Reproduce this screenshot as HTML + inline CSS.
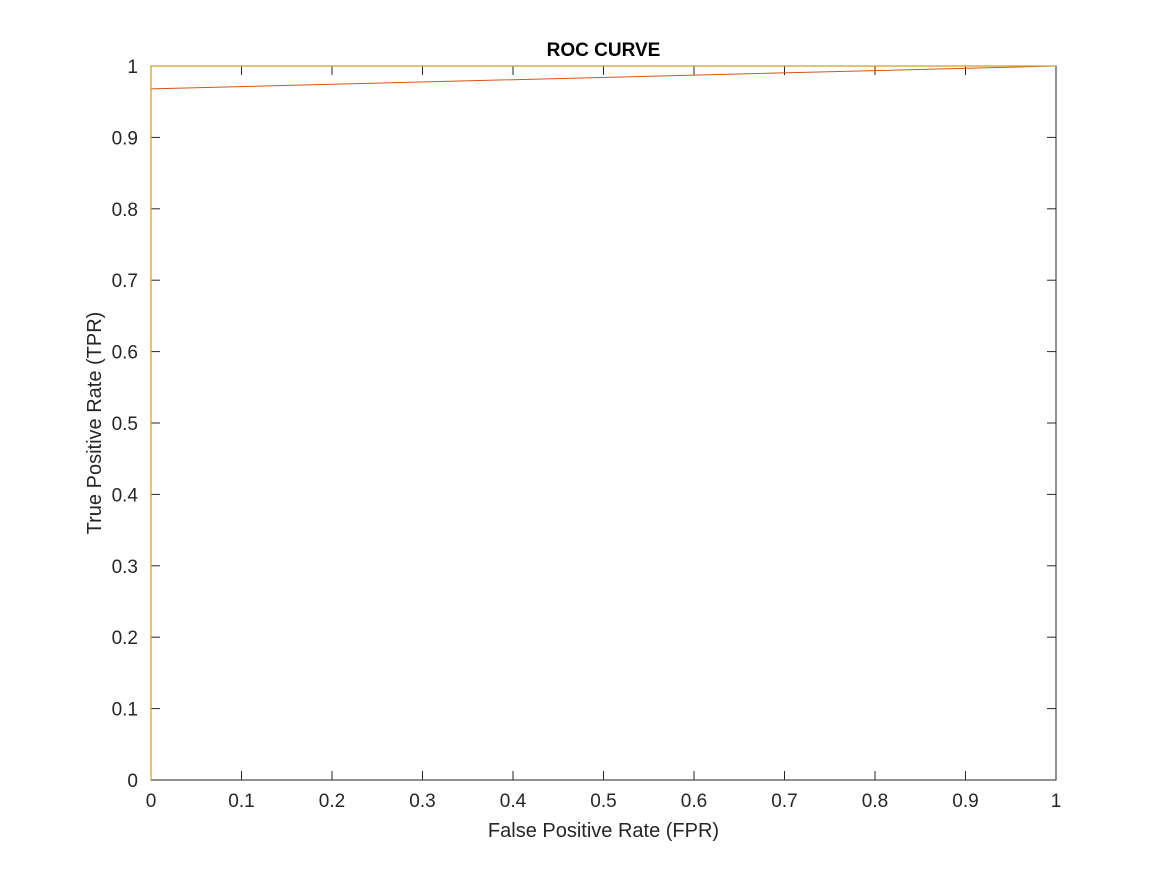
<!DOCTYPE html>
<html><head><meta charset="utf-8"><style>
body{margin:0;background:#fff;}
svg{display:block;font-family:"Liberation Sans",sans-serif;}
</style></head><body>
<svg id="chart" width="1167" height="875">
<rect x="0" y="0" width="1167" height="875" fill="#fff"/>
<g id="axes"></g>
<g id="series"></g>
<text x="603.5" y="56" text-anchor="middle" font-size="19" font-weight="bold" fill="#000">ROC CURVE</text>
<text x="603.5" y="837" text-anchor="middle" font-size="20" fill="#262626">False Positive Rate (FPR)</text>
<text transform="translate(101,423) rotate(-90)" text-anchor="middle" font-size="20" fill="#262626">True Positive Rate (TPR)</text>
</svg>
<script>
const xTicks=[0,0.1,0.2,0.3,0.4,0.5,0.6,0.7,0.8,0.9,1];
const yTicks=[0,0.1,0.2,0.3,0.4,0.5,0.6,0.7,0.8,0.9,1];
const tickLabels=["0","0.1","0.2","0.3","0.4","0.5","0.6","0.7","0.8","0.9","1"];
const perfectFPR=[0,0,1];
const perfectTPR=[0,1,1];
const rocFPR=[0,0,1];
const rocTPR=[0,0.968,1];
const L=151,R=1056,T=66,B=780;
const sx=v=>L+(R-L)*v, sy=v=>B-(B-T)*v;
const NS="http://www.w3.org/2000/svg";
const ax=document.getElementById('axes'), se=document.getElementById('series');
function mk(tag,attrs,parent){const e=document.createElementNS(NS,tag);for(const k in attrs)e.setAttribute(k,attrs[k]);parent.appendChild(e);return e;}
const box=mk('rect',{x:L,y:T,width:R-L,height:B-T,fill:'none',stroke:'#262626','stroke-width':1},ax);


xTicks.forEach((v,i)=>{
  const x=sx(v);
  const t1=mk('line',{x1:x,x2:x,y1:B,y2:B-9,stroke:'#262626'},ax);
  
  
  const t2=mk('line',{x1:x,x2:x,y1:T,y2:T+9,stroke:'#262626'},ax);
  
  
  const lb=mk('text',{x:x,y:B+27,'text-anchor':'middle','font-size':19,fill:'#262626'},ax);
  lb.textContent=tickLabels[i];
  
  
});
yTicks.forEach((v,i)=>{
  const y=sy(v);
  const t1=mk('line',{x1:L,x2:L+9,y1:y,y2:y,stroke:'#262626'},ax);
  
  
  const t2=mk('line',{x1:R,x2:R-9,y1:y,y2:y,stroke:'#262626'},ax);
  
  
  const lb=mk('text',{x:L-13,y:y+7,'text-anchor':'end','font-size':19,fill:'#262626'},ax);
  lb.textContent=tickLabels[i];
  
  
});
function pts(xs,ys){return xs.map((v,i)=>sx(v)+','+sy(ys[i])).join(' ');}
const roc=mk('polyline',{points:pts(rocFPR,rocTPR),fill:'none',stroke:'#D95319','stroke-width':1},se);


const perf=mk('polyline',{points:pts(perfectFPR,perfectTPR),fill:'none',stroke:'#C9A227','stroke-width':1.2},se);


</script>
</body></html>
